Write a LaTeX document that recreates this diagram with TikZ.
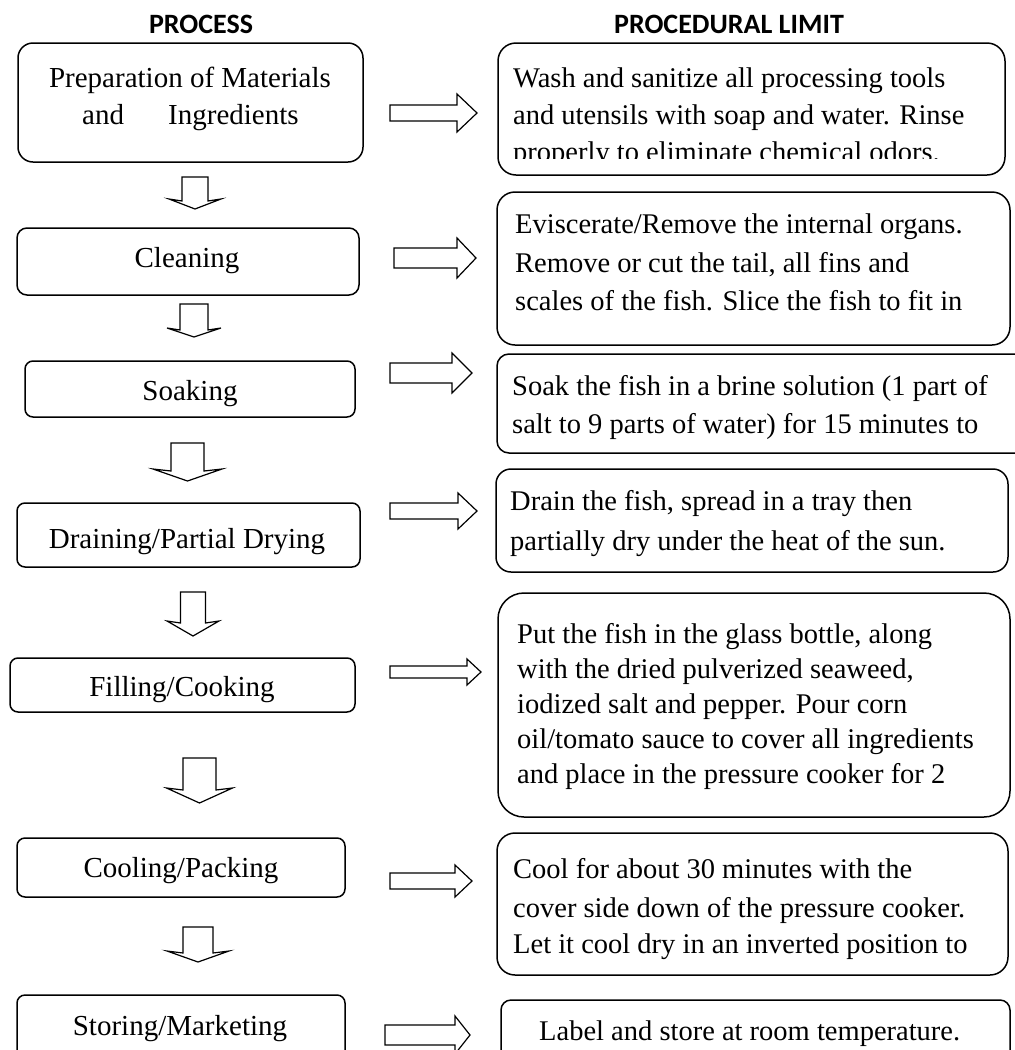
\documentclass[tikz,border=0pt]{standalone}
\usepackage{fontspec}
\setmainfont{Liberation Serif}
\newfontfamily\hdrfont{Carlito}
\usetikzlibrary{fit}
\newcommand\darr[6]{%
  \draw[blk] ({#1-#5},#2) -- ({#1+#5},#2) -- ({#1+#5},#3) -- ({#1+#6},{#3-2}) -- (#1,#4) -- ({#1-#6},{#3-2}) -- ({#1-#5},#3) -- cycle;}
\newcommand\rarr[6]{%
  \draw[blk] (#1,{#4-#5}) -- (#2,{#4-#5}) -- (#2,{#4-#6}) -- (#3,#4) -- (#2,{#4+#6}) -- (#2,{#4+#5}) -- (#1,{#4+#5}) -- cycle;}
\begin{document}
\begin{tikzpicture}[x=1pt,y=-1pt,
  box/.style={draw, line width=1.5pt, rounded corners=#1, inner sep=0pt, outer sep=0pt},
  ltxt/.style={font=\fontsize{29}{29}\selectfont, inner sep=0pt, anchor=base},
  lwtxt/.style={font=\fontsize{29}{29}\selectfont, inner sep=0pt, anchor=base west},
  rtxt/.style={font=\fontsize{28.5}{28.5}\selectfont, inner sep=0pt, anchor=base west},
  hdr/.style={font=\hdrfont\bfseries\fontsize{28}{28}\selectfont, inner sep=0pt, anchor=base},
  blk/.style={draw, line width=1.2pt, line join=miter}]
\useasboundingbox (0,0) rectangle (1015,1050);
\clip (0,0) rectangle (1015,1050);

% headers
\node[hdr] (h1) at (201,33) {PROCESS};
\node[hdr] (h2) at (729,33) {PROCEDURAL LIMIT};

% left boxes
\node[box=15pt, fit={(18,43) (363,162)}] (L1) {};
\node[box=10pt, fit={(17,228) (359,295)}] (L2) {};
\node[box=8pt, fit={(25,361) (355,417)}] (L3) {};
\node[box=8pt, fit={(17,503) (360,567)}] (L4) {};
\node[box=8pt, fit={(10,658) (355,712)}] (L5) {};
\node[box=8pt, fit={(17,838) (345,897)}] (L6) {};
\node[box=8pt, fit={(17,995) (345,1070)}] (L7) {};

\node[ltxt] (L1a) at (190,87) {Preparation of Materials};
\node[lwtxt] (L1b) at (82,124) {and};
\node[lwtxt] (L1c) at (168,124) {Ingredients};
\node[ltxt] (L2t) at (187,267) {Cleaning};
\node[ltxt] (L3t) at (190,400) {Soaking};
\node[ltxt] (L4t) at (187,548) {Draining/Partial Drying};
\node[ltxt] (L5t) at (182,696) {Filling/Cooking};
\node[ltxt] (L6t) at (181,877) {Cooling/Packing};
\node[ltxt] (L7t) at (180,1035) {Storing/Marketing};

% right boxes
\node[box=18pt, fit={(498,43) (1005,175)}] (R1) {};
\node[box=18pt, fit={(497,192) (1010,345)}] (R2) {};
\node[box=12pt, fit={(497,354) (1030,453)}] (R3) {};
\node[box=15pt, fit={(496,469) (1008,572)}] (R4) {};
\node[box=26pt, fit={(498,593) (1010,817)}] (R5) {};
\node[box=18pt, fit={(497,833) (1008,975)}] (R6) {};
\node[box=10pt, fit={(501,1000) (1010,1070)}] (R7) {};

\begin{scope}
\clip (498,43) rectangle (1005,158);
\node[rtxt] (R1a) at (513,87) {Wash and sanitize all processing tools};
\node[rtxt] (R1b) at (513,124) {and utensils with soap and water. Rinse};
\node[rtxt] (R1c) at (513,161) {properly to eliminate chemical odors.};
\end{scope}

\node[rtxt] (R2a) at (515,233) {Eviscerate/Remove the internal organs.};
\node[rtxt] (R2b) at (515,272) {Remove or cut the tail, all fins and};
\node[rtxt] (R2c) at (515,310) {scales of the fish. Slice the fish to fit in};

\node[rtxt] (R3a) at (512,395) {Soak the fish in a brine solution (1 part of};
\node[rtxt] (R3b) at (512,433) {salt to 9 parts of water) for 15 minutes to};

\node[rtxt] (R4a) at (510,510) {Drain the fish, spread in a tray then};
\node[rtxt] (R4b) at (510,550) {partially dry under the heat of the sun.};

\begin{scope}
\clip (498,593) rectangle (1010,795);
\node[rtxt] (R5a) at (517,643) {Put the fish in the glass bottle, along};
\node[rtxt] (R5b) at (517,678) {with the dried pulverized seaweed,};
\node[rtxt] (R5c) at (517,713) {iodized salt and pepper. Pour corn};
\node[rtxt] (R5d) at (517,748) {oil/tomato sauce to cover all ingredients};
\node[rtxt] (R5e) at (517,783) {and place in the pressure cooker for 2};
\end{scope}

\node[rtxt] (R6a) at (513,878) {Cool for about 30 minutes with the};
\node[rtxt] (R6b) at (513,917) {cover side down of the pressure cooker.};
\node[rtxt] (R6c) at (513,953) {Let it cool dry in an inverted position to};

\node[rtxt] (R7a) at (539,1040) {Label and store at room temperature.};

% right block arrows
\rarr{390}{457}{477}{113}{8}{19}
\rarr{394}{457}{476}{258}{10}{20}
\rarr{390}{452}{472}{373}{10}{20}
\rarr{390}{458}{477}{511}{8}{18}
\rarr{390}{467}{481}{672}{6}{13}
\rarr{390}{455}{472}{881}{8}{16}
\rarr{385}{455}{470}{1035}{10}{19}

% down block arrows
\darr{195}{177}{201}{209}{13}{26}
\darr{194}{304}{330}{337}{14}{27}
\darr{187.5}{443}{471}{481}{16.5}{34.5}
\darr{193}{592}{623}{636}{12.5}{26}
\darr{199.5}{758}{790}{803}{16.5}{33}
\darr{198}{927}{953}{962}{15}{31}
\end{tikzpicture}
\end{document}
